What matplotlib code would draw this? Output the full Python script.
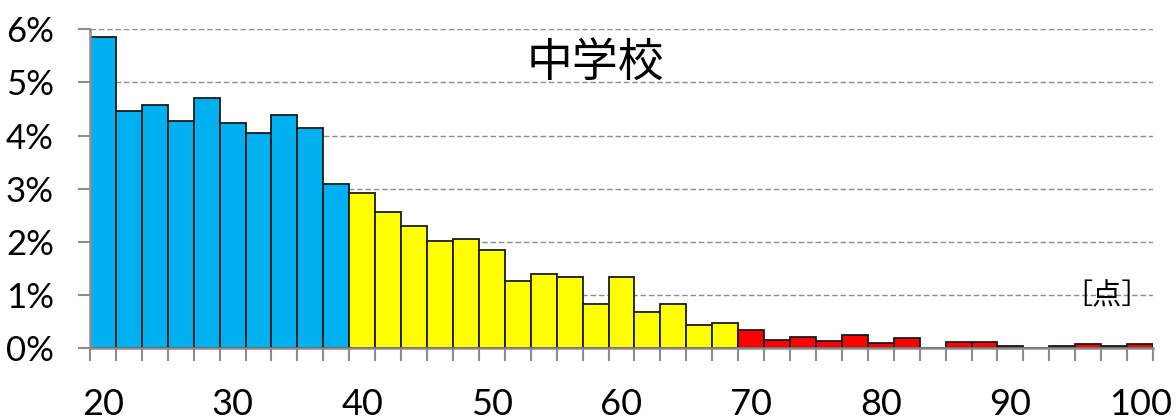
import matplotlib.pyplot as plt
from matplotlib.ticker import FixedLocator, FuncFormatter

plt.rcParams['font.family'] = ['Noto Sans CJK JP', 'DejaVu Sans']

# score bins (2-point steps) and share of students in each bin, in %
scores = list(range(20, 101, 2))
share = [5.86, 4.46, 4.57, 4.28, 4.71, 4.24, 4.05, 4.39, 4.14, 3.09,
         2.91, 2.56, 2.30, 2.02, 2.05, 1.85, 1.26, 1.40, 1.33, 0.83,
         1.33, 0.68, 0.83, 0.44, 0.47, 0.33, 0.15, 0.21, 0.14, 0.25,
         0.10, 0.18, 0.00, 0.11, 0.11, 0.04, 0.00, 0.03, 0.07, 0.03,
         0.07]
tick_labels = ['20', '30', '40', '50', '60', '70', '80', '90', '100']
title = '中学校'
unit = '［点］'


def bar_color(s):
    if s < 40:
        return '#00B0F0'
    if s < 70:
        return '#FFFF00'
    return '#FF0000'


fig = plt.figure(figsize=(11.76, 4.19), dpi=100)
ax = fig.add_axes([0.0765, 0.1695, 0.904, 0.7605])

pos = list(range(len(scores)))
ax.bar(pos, share, width=1.0, color=[bar_color(s) for s in scores],
       edgecolor='#1a1a1a', linewidth=1.3, zorder=3)

ax.set_xlim(-0.5, len(scores) - 0.5)
ax.set_ylim(0, 6)

# labels every 10 points, under the bar centres; tick marks on bar edges
ax.xaxis.set_major_locator(FixedLocator([pos[scores.index(int(t))] for t in tick_labels]))
ax.set_xticklabels(tick_labels, family='Lato')
ax.xaxis.set_minor_locator(FixedLocator([p - 0.5 for p in pos] + [pos[-1] + 0.5]))
ax.tick_params(axis='x', which='major', length=0, pad=29, labelsize=26)
ax.tick_params(axis='x', which='minor', length=9.5, width=1.5, color='#8c8c8c')

ax.set_yticks(range(0, 7))
ax.yaxis.set_major_formatter(FuncFormatter(lambda v, _: f'{int(v)}%'))
ax.tick_params(axis='y', length=9, width=1.5, color='#8c8c8c', pad=17, labelsize=25)
for lbl in ax.get_yticklabels():
    lbl.set_family('Lato')

ax.grid(axis='y', color='#8c8c8c', linestyle=(0, (4, 2)), linewidth=1.0, zorder=0)
for side in ['top', 'right']:
    ax.spines[side].set_visible(False)
for side in ['left', 'bottom']:
    ax.spines[side].set_color('#8c8c8c')
    ax.spines[side].set_linewidth(1.8)
    ax.spines[side].set_zorder(4)

ax.text(0.475, 0.891, title, transform=ax.transAxes, ha='center', va='center', fontsize=33)
ax.text(0.957, 0.163, unit, transform=ax.transAxes, ha='center', va='center', fontsize=21)

fig.savefig('out.png', dpi=100)
